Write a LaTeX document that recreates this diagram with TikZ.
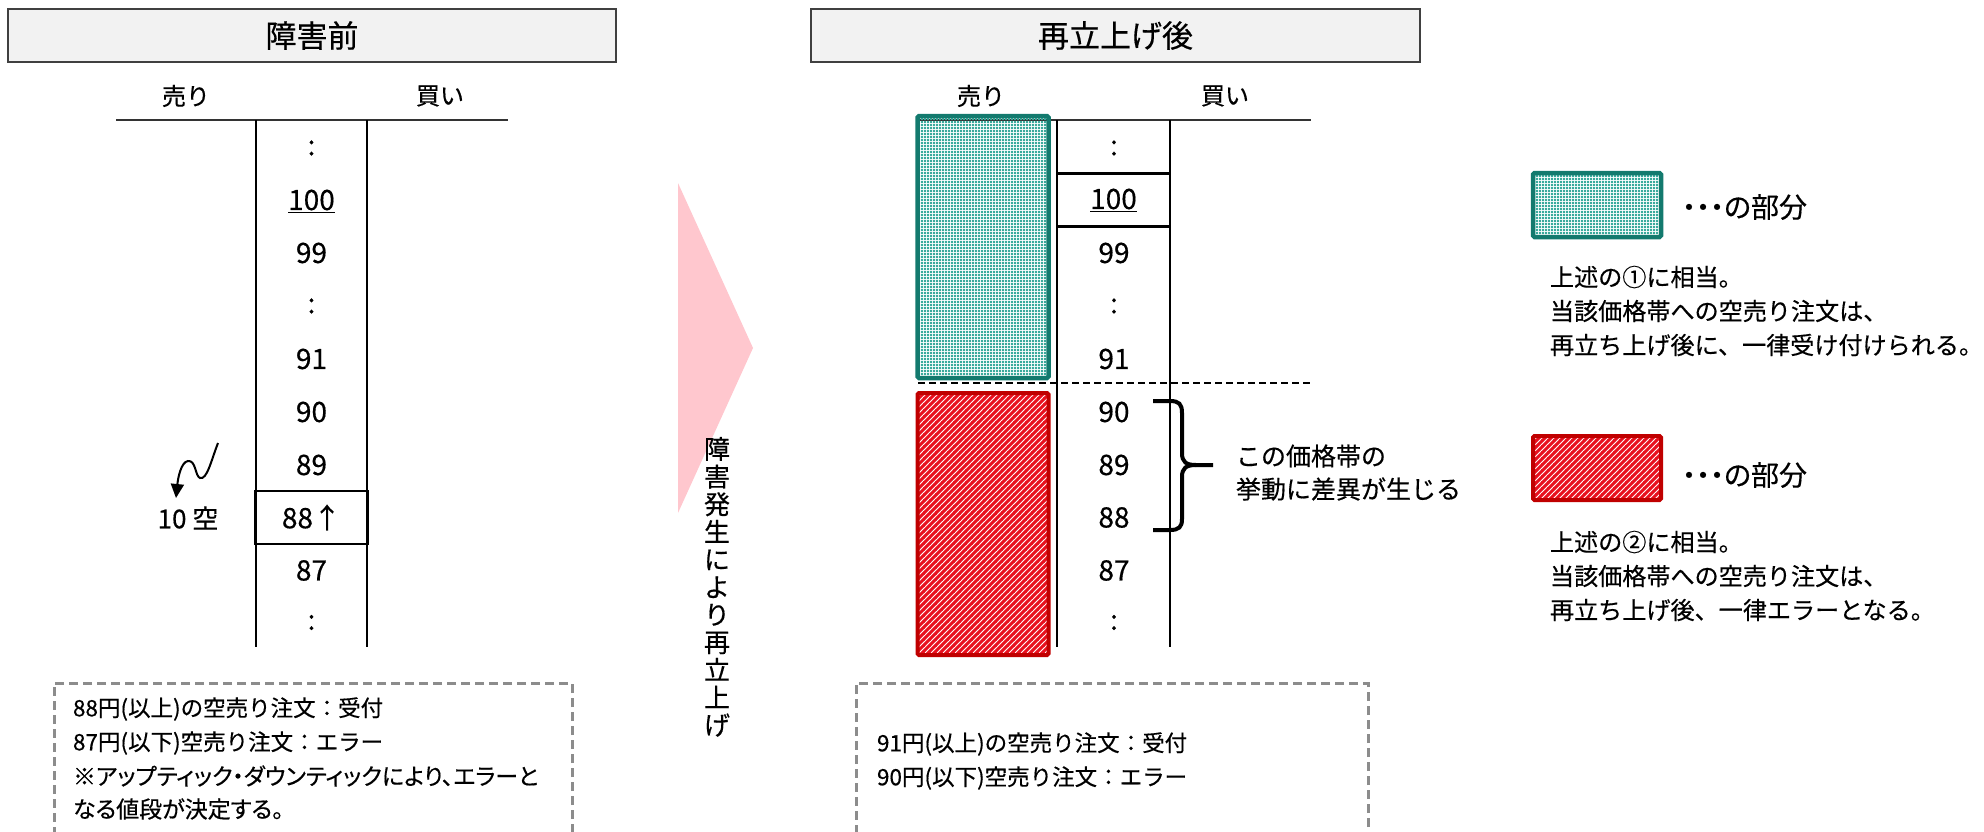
\documentclass[tikz,border=0pt]{standalone}
\usepackage{fontspec}
\setmainfont{Noto Sans CJK JP}[FakeBold=0.45]
\newfontfamily\pal{Noto Sans CJK JP}[RawFeature=+palt,FakeBold=0.45]
\usetikzlibrary{arrows.meta,patterns}
\pgfdeclarepatternformonly{tealdots}{\pgfqpoint{0pt}{0pt}}{\pgfqpoint{3pt}{3pt}}{\pgfqpoint{3pt}{3pt}}{%
  \pgfpathrectangle{\pgfqpoint{0.3pt}{0.3pt}}{\pgfqpoint{2.4pt}{2.4pt}}\pgfusepath{fill}}
\pgfdeclarepatternformonly{redstripes}{\pgfqpoint{-1pt}{-1pt}}{\pgfqpoint{7pt}{7pt}}{\pgfqpoint{6pt}{6pt}}{%
  \pgfsetlinewidth{2.9pt}\pgfpathmoveto{\pgfqpoint{-1pt}{-1pt}}\pgfpathlineto{\pgfqpoint{7pt}{7pt}}\pgfusepath{stroke}}
\definecolor{tealb}{HTML}{137A6E}
\definecolor{teald}{HTML}{3AAA9C}
\definecolor{redb}{HTML}{C00000}
\definecolor{reds}{HTML}{E8101E}
\definecolor{pinkc}{HTML}{FFC7CE}
\definecolor{titlefill}{HTML}{F2F2F2}
\definecolor{boxgray}{HTML}{8C8C8C}
\begin{document}
\begin{tikzpicture}[x=1pt,y=-1pt,
  every node/.style={inner sep=0pt,outer sep=0pt},
  titlebox/.style={draw=black!75,fill=titlefill,line width=1.5pt,minimum height=53,font=\fontsize{31}{36}\selectfont},
  headtxt/.style={font=\fontsize{24}{28}\selectfont},
  rowtxt/.style={font=\fontsize{28}{32}\selectfont},
  pricebox/.style={draw=black,line width=2.5pt,minimum width=112,minimum height=53},
  tabline/.style={draw=black!80,line width=2pt},
  colline/.style={draw=black,line width=1.5pt},
  notebox/.style={draw=boxgray,line width=3pt,dash pattern=on 9pt off 5pt},
  notetxt/.style={anchor=west,font=\fontsize{22.5}{26}\selectfont},
  notetxtp/.style={anchor=west,font=\pal\fontsize{23}{26}\selectfont},
  legtxt/.style={anchor=west,font=\fontsize{24.1}{28}\selectfont},
  bracetxt/.style={anchor=west,font=\fontsize{25}{28}\selectfont},
  dotstxt/.style={anchor=west,font=\pal\fontsize{28}{30}\selectfont},
  tealbox/.style={draw=tealb,line width=4.5pt,rounded corners=1.5pt,pattern=tealdots,pattern color=teald},
  redbox/.style={draw=redb,line width=4pt,rounded corners=1.5pt,pattern=redstripes,pattern color=reds},
]
\useasboundingbox (0,0) rectangle (1984,831);

% ---------- left: before failure ----------
\node[titlebox,minimum width=608] (t1) at (312,35.5) {障害前};
\node[headtxt] (sell1) at (186,96) {売り};
\node[headtxt] (buy1) at (440,96) {買い};
\coordinate (h1a) at (116,120);
\coordinate (h1b) at (508,120);
\draw[tabline] (h1a) -- (h1b);
\coordinate (v1at) at (256,120); \coordinate (v1ab) at (256,647);
\coordinate (v1bt) at (367,120); \coordinate (v1bb) at (367,647);
\draw[colline] (v1at) -- (v1ab);
\draw[colline] (v1bt) -- (v1bb);
\node[rowtxt] (la) at (311.5,148) {:};
\node[rowtxt] (l100) at (311.5,201) {\underline{100}};
\node[rowtxt] (l99) at (311.5,253) {99};
\node[rowtxt] (lb) at (311.5,306) {:};
\node[rowtxt] (l91) at (311.5,359) {91};
\node[rowtxt] (l90) at (311.5,412) {90};
\node[rowtxt] (l89) at (311.5,465) {89};
\node[rowtxt,pricebox] (l88) at (311.5,517.5) {88↑};
\node[rowtxt] (l87) at (311.5,570.5) {87};
\node[rowtxt] (lc) at (311.5,622.5) {:};
\node[font=\fontsize{26}{30}\selectfont] (ten) at (188,518) {10 空};
\coordinate (sqs) at (218,443);
\coordinate (sqe) at (176,498);
\draw[line width=2pt,-{Triangle[length=14pt,width=13pt]}] (sqs) .. controls (211,461) and (207,480) .. (200,478)
   .. controls (195,476) and (196,460) .. (188,461) .. controls (181,462) and (178,478) .. (sqe);

\node[notebox,anchor=north west,minimum width=518,minimum height=150] (nb1) at (54,683) {};
\node[notetxt] (n1a) at (73,709) {88円(以上)の空売り注文：受付};
\node[notetxt] (n1b) at (73,743) {87円(以下)空売り注文：エラー};
\node[notetxtp] (n1c) at (73,776) {※アップティック・ダウンティックにより、エラーと};
\node[notetxtp] (n1d) at (73,809) {なる値段が決定する。};

% ---------- middle arrow ----------
\fill[pinkc] (678,183) -- (753,348) -- (678,513) -- cycle;
\node[anchor=north,align=center,font=\fontsize{26}{27.6}\selectfont] (vt) at (717,437)
  {障\\害\\発\\生\\に\\よ\\り\\再\\立\\上\\げ};

% ---------- right: after restart ----------
\node[titlebox,minimum width=609] (t2) at (1115.5,35.5) {再立上げ後};
\node[headtxt] (sell2) at (981,96) {売り};
\node[headtxt] (buy2) at (1225,96) {買い};
\coordinate (h2a) at (917,120);
\coordinate (h2b) at (1311,120);
\draw[tabline] (h2a) -- (h2b);
\coordinate (v2at) at (1057,120); \coordinate (v2ab) at (1057,647);
\coordinate (v2bt) at (1170,120); \coordinate (v2bb) at (1170,647);
\draw[colline] (v2at) -- (v2ab);
\draw[colline] (v2bt) -- (v2bb);
\node[tealbox,anchor=north west,minimum width=131,minimum height=262] (teal) at (917.5,116) {};
\node[redbox,anchor=north west,minimum width=131,minimum height=262] (red) at (917.5,393) {};
\coordinate (dla) at (918,383);
\coordinate (dlb) at (1311,383);
\draw[line width=2.5pt,dash pattern=on 7pt off 4pt] (dla) -- (dlb);
\node[rowtxt] (ra) at (1114,148) {:};
\node[rowtxt,pricebox,minimum width=113] (r100) at (1113.5,200) {\underline{100}};
\node[rowtxt] (r99) at (1114,253) {99};
\node[rowtxt] (rb) at (1114,306) {:};
\node[rowtxt] (r91) at (1114,359) {91};
\node[rowtxt] (r90) at (1114,412) {90};
\node[rowtxt] (r89) at (1114,465) {89};
\node[rowtxt] (r88) at (1114,517.5) {88};
\node[rowtxt] (r87) at (1114,570.5) {87};
\node[rowtxt] (rc) at (1114,622.5) {:};
\draw[line width=4pt] (1153,401) -- (1170,401) .. controls (1179,401) and (1182,404) .. (1182,413)
  -- (1182,453) .. controls (1182,462) and (1186,465) .. (1196,465) -- (1213,465);
\draw[line width=4pt] (1196,465) .. controls (1186,465) and (1182,468) .. (1182,477)
  -- (1182,519) .. controls (1182,527) and (1179,530) .. (1170,530) -- (1153,530);
\node[bracetxt] (bt1) at (1236,456) {この価格帯の};
\node[bracetxt] (bt2) at (1236,489) {挙動に差異が生じる};

\node[notebox,anchor=north west,minimum width=512,minimum height=150] (nb2) at (856,683) {};
\node[notetxt] (n2a) at (877,744) {91円(以上)の空売り注文：受付};
\node[notetxt] (n2b) at (877,778) {90円(以下)空売り注文：エラー};

% ---------- legend ----------
\node[tealbox,anchor=north west,minimum width=128,minimum height=64] (lg1) at (1533,173) {};
\node[dotstxt] (lg1t) at (1682,207) {・・・の部分};
\node[legtxt] (lg1a) at (1550,277) {上述の①に相当。};
\node[legtxt] (lg1b) at (1550,311) {当該価格帯への空売り注文は、};
\node[legtxt] (lg1c) at (1550,345) {再立ち上げ後に、一律受け付けられる。};
\node[redbox,anchor=north west,minimum width=128,minimum height=64] (lg2) at (1533,436) {};
\node[dotstxt] (lg2t) at (1682,475) {・・・の部分};
\node[legtxt] (lg2a) at (1550,542) {上述の②に相当。};
\node[legtxt] (lg2b) at (1550,576) {当該価格帯への空売り注文は、};
\node[legtxt] (lg2c) at (1550,610) {再立ち上げ後、一律エラーとなる。};
\end{tikzpicture}
\end{document}
